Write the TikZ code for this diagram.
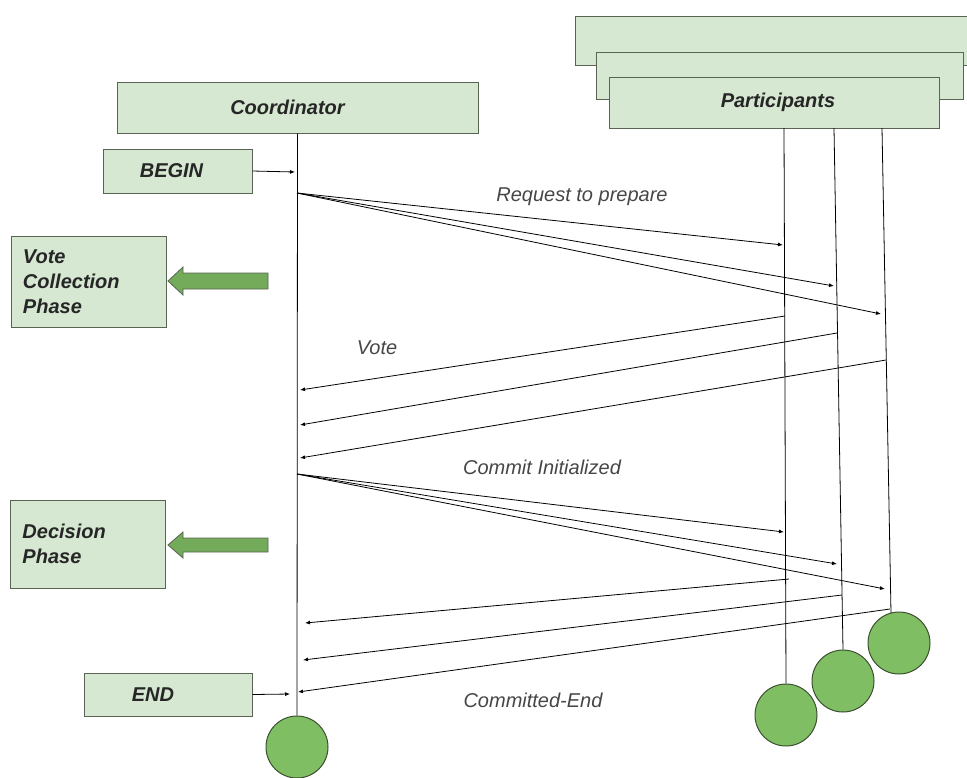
\documentclass[tikz,border=0pt]{standalone}
\usepackage{fontspec}
\setmainfont{Liberation Sans}
\usetikzlibrary{arrows.meta}
\definecolor{boxgreen}{RGB}{214,232,210}
\definecolor{boxline}{RGB}{90,100,85}
\definecolor{dotgreen}{RGB}{128,190,100}
\definecolor{dotline}{RGB}{60,80,50}
\definecolor{msgtext}{RGB}{70,70,70}
\begin{document}
\begin{tikzpicture}[x=1pt, y=-1pt,
    box/.style={draw=boxline, fill=boxgreen, line width=1pt, inner sep=0pt,
      font=\fontsize{20}{25}\selectfont\bfseries\itshape, text=black!85},
    phasebox/.style={box, align=left, text width=131pt, inner xsep=12pt},
    msg/.style={line width=.8pt, -{Latex[length=5pt,width=4pt]}},
    lbl/.style={font=\fontsize{20}{24}\selectfont\itshape, text=msgtext},
    life/.style={line width=.8pt},
    dot/.style={circle, draw=dotline, fill=dotgreen, line width=1pt, minimum size=62pt},
    fat/.style={draw=boxline, fill=dotgreen!90!black, line width=.8pt}]
  \useasboundingbox (0,0) rectangle (967,777);

  % coordinator side
  \node[box, minimum width=361pt, minimum height=51pt] (coord) at (297.5,107.5) {\hspace{-20pt}Coordinator};
  \node[box, minimum width=149pt, minimum height=44pt] (begin) at (177.5,171) {\hspace{-12pt}BEGIN};
  \node[box, minimum width=168pt, minimum height=43pt] (end) at (168,694.5) {\hspace{-30pt}END};
  \node[phasebox, minimum height=91pt] (vcp) at (88.5,281.5) {Vote\\Collection\\Phase};
  \node[phasebox, minimum height=88pt] (dp) at (88,544) {Decision\\Phase};
  \node[dot] (cend) at (297,747) {};
  \draw[life] (coord.south) -- (cend.north);

  % phase arrows
  \draw[fat] (268,273) --++ (-85,0) --++ (0,-6) --++ (-15,14)
             --++ (15,14) --++ (0,-6) --++ (85,0) -- cycle;
  \draw[fat] (268,538) --++ (-85,0) --++ (0,-6) --++ (-15,13)
             --++ (15,13) --++ (0,-6) --++ (85,0) -- cycle;

  % participants, stacked
  \node[box, minimum width=400pt, minimum height=49pt] (pback) at (775,40.5) {};
  \node[box, minimum width=367pt, minimum height=47pt] (pmid) at (779.5,75.5) {};
  \node[box, minimum width=330pt, minimum height=51pt] (part) at (774,102.5) {\hspace{8pt}Participants};
  \node[dot] (d1) at (786,715) {};
  \node[dot] (d2) at (843,681) {};
  \node[dot] (d3) at (899,643) {};
  \coordinate (t1) at (784,128);
  \coordinate (t2) at (834,128);
  \coordinate (t3) at (882,128);
  \coordinate (b3) at (891,613);
  \draw[life] (t1) -- (d1.north);
  \draw[life] (t2) -- (d2.north);
  \draw[life] (t3) -- (b3);

  % message end points
  \coordinate (rq) at (297,193);
  \coordinate (ci) at (297,474);
  \coordinate (bin) at (295,172);
  \coordinate (ein) at (290,694);
  \foreach \n/\x/\y in {r1/783/245, r2/834/286, r3/881/314,
                        v1/785/316, v2/837/333, v3/886/360,
                        w1/300/390, w2/300/425, w3/300/458,
                        c1/784/532, c2/837/564, c3/885/589,
                        f1/789/579, f2/842/595, f3/890/609,
                        g1/305/623, g2/303/660, g3/298/692}{
    \coordinate (\n) at (\x,\y);
  }

  \draw[msg] (begin.east) -- (bin);
  \draw[msg] (end.east) -- (ein);
  \foreach \i in {1,2,3}{
    \draw[msg] (rq) -- (r\i);
    \draw[msg] (v\i) -- (w\i);
    \draw[msg] (ci) -- (c\i);
    \draw[msg] (f\i) -- (g\i);
  }

  \node[lbl] (lreq) at (582,197) {Request to prepare};
  \node[lbl] (lvote) at (377,348) {Vote};
  \node[lbl] (lcom) at (542,467) {Commit Initialized};
  \node[lbl] (lend) at (533,700) {Committed-End};
\end{tikzpicture}
\end{document}
